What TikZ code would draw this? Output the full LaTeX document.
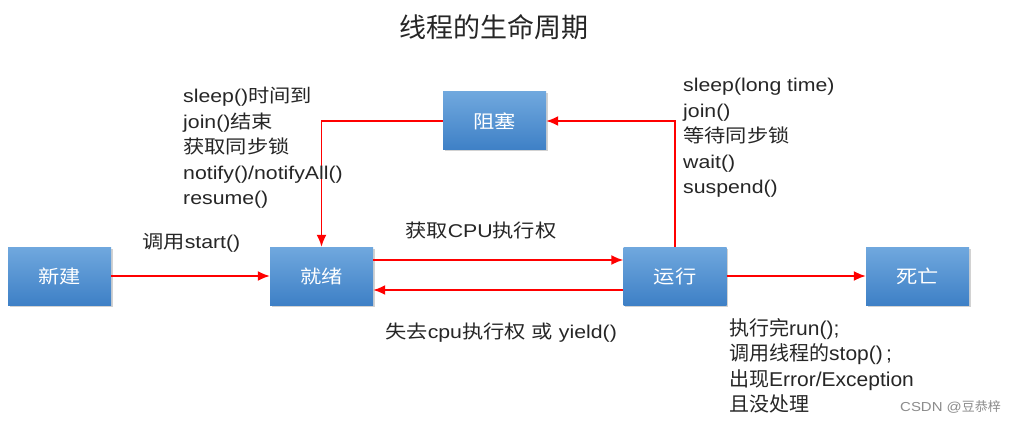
\documentclass[tikz,border=0pt]{standalone}
\usepackage{fontspec}
\setmainfont{Liberation Sans}[FakeStretch=1.15]
\newfontfamily\zhf{Noto Sans CJK SC}[FakeStretch=1.15]
\newfontfamily\zhn{Noto Sans CJK SC}
\newfontfamily\latn{Liberation Sans}[FakeStretch=1.05]
\usetikzlibrary{arrows.meta,shadows}
\newcommand{\zh}[1]{{\zhf #1}}
\newcommand{\zn}[1]{{\zhn #1}}
\definecolor{boxtop}{RGB}{112,168,222}
\definecolor{boxbot}{RGB}{62,128,198}
\definecolor{arrred}{RGB}{255,0,0}
\tikzset{
  statebox/.style={rectangle, minimum width=103pt, minimum height=58pt, inner sep=0pt,
    top color=boxtop, bottom color=boxbot, draw=none,
    drop shadow={shadow xshift=1.5pt, shadow yshift=-1.5pt, opacity=0.35},
    text=white, font=\zhf\fontsize{18.5pt}{22pt}\selectfont},
  conn/.style={draw=arrred, line width=1.8pt, -{Latex[length=12pt,width=10pt]}},
  lbl/.style={inner sep=0pt, anchor=north west, align=left, text=black!85,
    font=\fontsize{18.5pt}{25.5pt}\selectfont},
  lblb/.style={inner sep=0pt, anchor=north west, align=left, text=black!85,
    font=\fontsize{20pt}{25.5pt}\selectfont},
}
\begin{document}
\begin{tikzpicture}[x=1pt,y=-1pt]
\useasboundingbox[fill=white] (0,0) rectangle (1016,422);
% title
\node[inner sep=0pt, font=\zhn\fontsize{27pt}{30pt}\selectfont, text=black!85] (title) at (494,27) {线程的生命周期};
% states
\node[statebox] (xj) at (59.5,276) {新建};
\node[statebox] (jx) at (321.5,276) {就绪};
\node[statebox] (zs) at (494.5,121) {阻塞};
\node[statebox] (yx) at (675,276) {运行};
\node[statebox] (sw) at (917.5,276) {死亡};
% connectors
\draw[conn] (xj.east) -- (jx.west);
\draw[conn] ([yshift=16pt]jx.east) -- ([yshift=16pt]yx.west);
\draw[conn] ([yshift=-14pt]yx.west) -- ([yshift=-14pt]jx.east);
\draw[conn] (yx.east) -- (sw.west);
\draw[conn] (yx.north) |- (zs.east);
\draw[conn] (zs.west) -| (jx.north);
% labels
\node[lbl] (l1) at (183,87) {sleep()\zh{时间到}\\join()\zh{结束}\\\zh{获取同步锁}\\notify()/notifyAll()\\resume()};
\node[lbl] (l2) at (683,78) {sleep(long time)\\join()\\\zh{等待同步锁}\\wait()\\suspend()};
\node[lbl, anchor=west] (l3) at (142,243) {\zh{调用}start()};
\node[lbl, anchor=west] (l4) at (405,231) {\zh{获取}CPU\zh{执行权}};
\node[lbl, anchor=west] (l5) at (385,333) {\zh{失去}cpu\zh{执行权} \zh{或} yield()};
\node[lblb] (l6) at (729,318) {\zn{执行完}{\latn run();}\\\zn{调用线程的}{\latn stop()\,;}\\\zn{出现}{\latn Error/Exception}\\\zn{且没处理}};
\node[inner sep=0pt, anchor=west, text=black!45, font=\fontsize{13pt}{15pt}\selectfont] (wm) at (900,407) {CSDN @\zn{豆恭梓}};
\end{tikzpicture}
\end{document}
